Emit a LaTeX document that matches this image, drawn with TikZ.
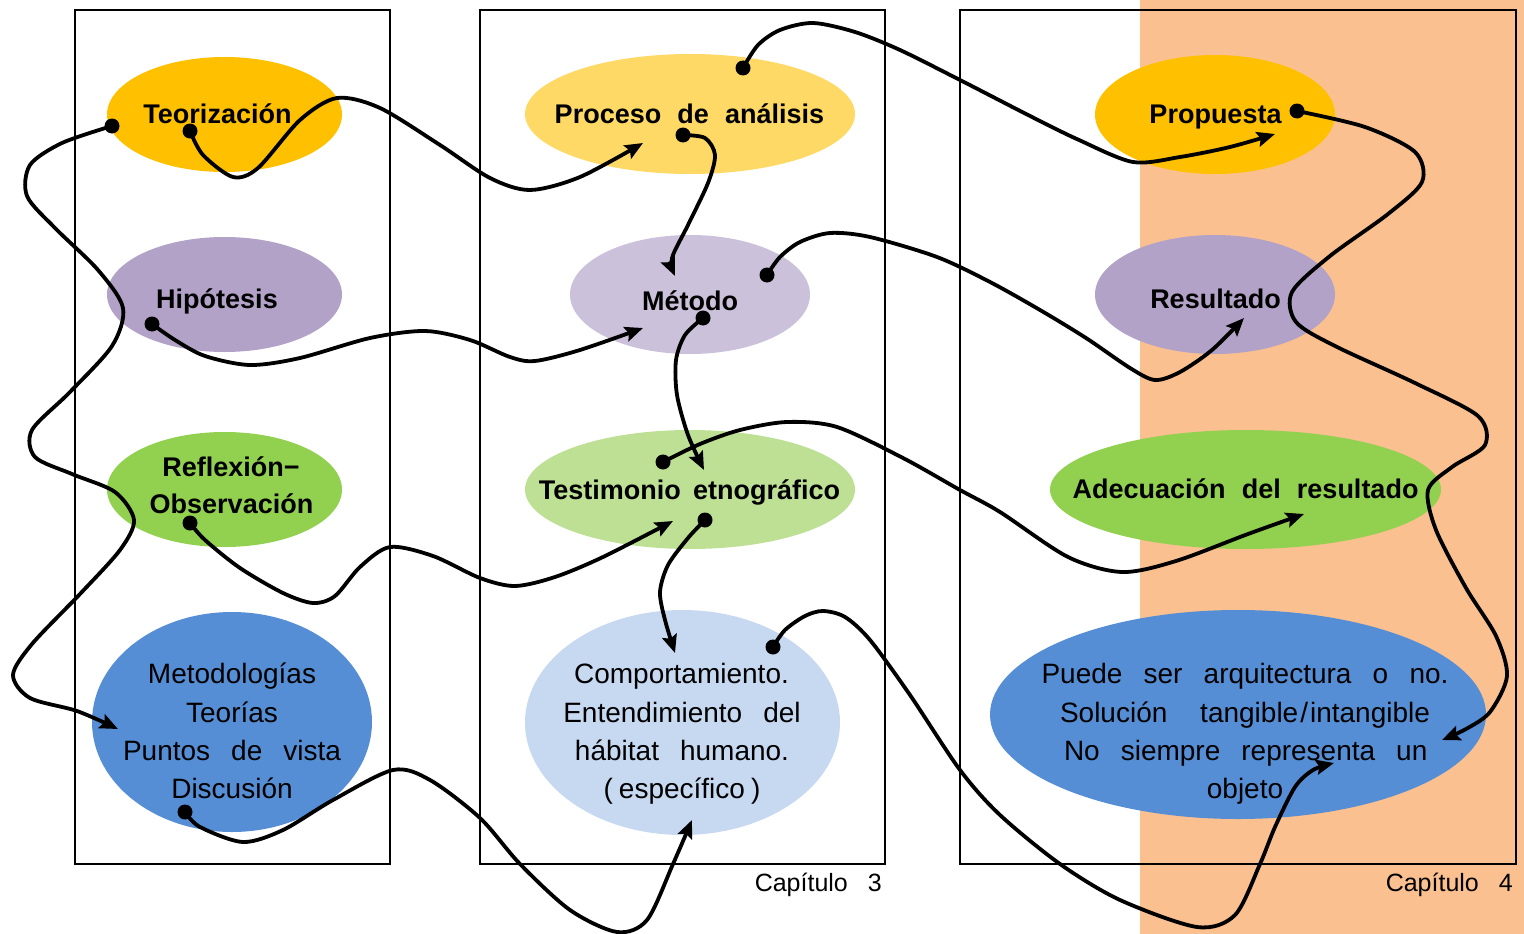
\documentclass[tikz,border=0pt]{standalone}
\usepackage{fontspec}
\setmainfont{Liberation Sans}
\usetikzlibrary{shapes.geometric,arrows.meta}
\definecolor{cTeo}{HTML}{FFC000}
\definecolor{cHip}{HTML}{B3A2C7}
\definecolor{cRef}{HTML}{92D050}
\definecolor{cMet}{HTML}{558ED5}
\definecolor{cPro}{HTML}{FFD966}
\definecolor{cMeto}{HTML}{CCC1DA}
\definecolor{cTes}{HTML}{BDE094}
\definecolor{cCom}{HTML}{C6D9F1}
\definecolor{cBg}{HTML}{FAC090}
\newcommand\wsBold{\spaceskip=0.6em plus 0.3em\relax}
\newcommand\wsTes{\spaceskip=0.45em\relax}
\newcommand\wsReg{\spaceskip=0.75em plus 2em\relax}
\newcommand\wsCap{\spaceskip=0.8em\relax}
\tikzset{
  blob/.style={ellipse, inner sep=0pt, draw=none},
  boldtxt/.style={font={\fontsize{27}{32}\selectfont\bfseries\wsBold}, anchor=base, inner sep=0pt},
  regtxt/.style={font={\fontsize{28}{34}\selectfont\wsReg}, anchor=base, inner sep=0pt},
  captxt/.style={font={\fontsize{25}{30}\selectfont\wsCap}, anchor=base east, inner sep=0pt},
  frame/.style={draw=black, line width=2.4pt},
  con/.style={draw=black, line width=3.8pt, line cap=round, line join=round, -{Stealth[length=18pt,width=15pt,inset=3pt]}},
  dotmark/.style={fill=black}
}
\begin{document}
\begin{tikzpicture}[x=1pt,y=-1pt]
\useasboundingbox (0,0) rectangle (1524,934);
\fill[cBg] (1140,0) rectangle (1524,934);
% frames
\draw[frame] (75,10) rectangle (390,864);
\draw[frame] (480,10) rectangle (885,864);
\draw[frame] (960,10) rectangle (1516,864);
\node[captxt] (cap3) at (882,891) {Capítulo 3};
\node[captxt] (cap4) at (1513,891) {Capítulo 4};
% ellipses column 1
\node[blob, fill=cTeo, minimum width=235pt, minimum height=115pt] (teo) at (224.5,114.5) {};
\node[blob, fill=cHip, minimum width=235pt, minimum height=115pt] (hip) at (224.5,294.5) {};
\node[blob, fill=cRef, minimum width=235pt, minimum height=115pt] (ref) at (224.5,489.5) {};
\node[blob, fill=cMet, minimum width=280pt, minimum height=220pt] (met) at (232,722) {};
% column 2
\node[blob, fill=cPro, minimum width=330pt, minimum height=120pt] (pro) at (690,114) {};
\node[blob, fill=cMeto, minimum width=240pt, minimum height=119pt] (meto) at (690,294.5) {};
\node[blob, fill=cTes, minimum width=330pt, minimum height=119pt] (tes) at (690,489.5) {};
\node[blob, fill=cCom, minimum width=315pt, minimum height=225pt] (com) at (682.5,722.5) {};
% column 3
\node[blob, fill=cTeo, minimum width=240pt, minimum height=119pt] (prop) at (1215,114.5) {};
\node[blob, fill=cHip, minimum width=240pt, minimum height=119pt] (res) at (1215,294.5) {};
\node[blob, fill=cRef, minimum width=391pt, minimum height=119pt] (ade) at (1245.5,489.5) {};
\node[blob, fill=cMet, minimum width=496pt, minimum height=209pt] (pue) at (1238,714.5) {};
% texts
\node[boldtxt] (tTeo) at (217.5,123) {Teorización};
\node[boldtxt] (tHip) at (217,308) {Hipótesis};
\node[boldtxt] (tRef1) at (231,476) {Reflexión−};
\node[boldtxt] (tRef2) at (231.5,513) {Observación};
\node[regtxt] (tMet1) at (232,683) {Metodologías};
\node[regtxt] (tMet2) at (232,722) {Teorías};
\node[regtxt] (tMet3) at (232,760) {Puntos de vista};
\node[regtxt] (tMet4) at (232,798) {Discusión};
\node[boldtxt] (tPro) at (689.5,124) {Proceso de análisis};
\node[boldtxt] (tMeto) at (690,310) {Método};
\node[boldtxt, font={\fontsize{27}{32}\selectfont\bfseries\wsTes}] (tTes) at (689.5,499) {Testimonio etnográfico};
\node[regtxt] (tCom1) at (681.5,683) {Comportamiento.};
\node[regtxt] (tCom2) at (682,722) {Entendimiento del};
\node[regtxt] (tCom3) at (682,760) {hábitat humano.};
\node[regtxt] (tCom4) at (682,798) {(\hspace{6pt}específico\hspace{6pt})};
\node[boldtxt] (tProp) at (1215.5,123) {Propuesta};
\node[boldtxt] (tRes) at (1215.5,308) {Resultado};
\node[boldtxt] (tAde) at (1245.5,498) {Adecuación del resultado};
\node[regtxt] (tPue1) at (1245,683) {\makebox[407pt][s]{Puede ser arquitectura o no.}};
\node[regtxt] (tPue2) at (1245,722) {\makebox[370pt][s]{Solución tangible\hspace{2pt}/\hspace{2pt}intangible}};
\node[regtxt] (tPue3) at (1245.5,760) {\makebox[363pt][s]{No siempre representa un}};
\node[regtxt] (tPue4) at (1245,798) {objeto};
% connector end points
\coordinate (A-s) at (112,126);   \coordinate (A-e) at (118,729);
\coordinate (B-s) at (190,131);   \coordinate (B-e) at (643,143);
\coordinate (C-s) at (683,135);   \coordinate (C-e) at (675,276);
\coordinate (D-s) at (743,68);    \coordinate (D-e) at (1275,134);
\coordinate (E-s) at (1297,111);  \coordinate (E-e) at (1442,740);
\coordinate (F-s) at (152,324);   \coordinate (F-e) at (643,328);
\coordinate (G-s) at (703,318);   \coordinate (G-e) at (704,470);
\coordinate (H-s) at (767,275);   \coordinate (H-e) at (1244,318);
\coordinate (I-s) at (190,523);   \coordinate (I-e) at (673,521);
\coordinate (J-s) at (663,462);   \coordinate (J-e) at (1304,514);
\coordinate (K-s) at (705,520);   \coordinate (K-e) at (675,653);
\coordinate (L-s) at (773,647);   \coordinate (L-e) at (1334,763);
\coordinate (M-s) at (185,812);   \coordinate (M-e) at (692,820);
% connectors
\draw[con] plot[smooth] coordinates {(A-s) (62,143) (30,165) (27,196) (55,228) (98,270) (123,308) (112,346) (70,392) (32,430) (35,457) (72,474) (115,492) (134,520) (120,550) (80,594) (32,644) (13,675) (30,698) (77,711) (A-e)};
\draw[con] plot[smooth] coordinates {(B-s) (203,155) (233,177) (258,168) (300,120) (337,98) (380,108) (440,145) (490,178) (530,190) (580,177) (B-e)};
\draw[con] plot[smooth] coordinates {(C-s) (705,138) (715,155) (708,183) (688,225) (672,258) (C-e)};
\draw[con] plot[smooth] coordinates {(D-s) (758,45) (780,30) (813,23) (855,32) (900,50) (960,80) (1032,117) (1079,140) (1133,162) (1180,157) (1230,147) (D-e)};
\draw[con] plot[smooth] coordinates {(E-s) (1365,127) (1415,152) (1422,182) (1388,214) (1330,256) (1292,292) (1296,322) (1335,346) (1415,383) (1478,416) (1485,445) (1452,467) (1428,490) (1436,530) (1466,588) (1496,636) (1507,676) (1490,712) (1466,729) (E-e)};
\draw[con] plot[smooth] coordinates {(F-s) (175,340) (205,356) (250,365) (300,358) (370,338) (425,331) (470,340) (510,357) (535,361) (580,350) (F-e)};
\draw[con] plot[smooth] coordinates {(G-s) (685,335) (676,360) (677,395) (688,435) (G-e)};
\draw[con] plot[smooth] coordinates {(H-s) (780,257) (800,242) (830,233) (870,237) (937,257) (990,282) (1040,310) (1086,338) (1130,368) (1155,380) (1180,372) (1212,350) (H-e)};
\draw[con] plot[smooth] coordinates {(I-s) (205,540) (240,568) (283,593) (313,603) (335,596) (360,567) (390,547) (433,556) (480,578) (515,586) (555,577) (603,557) (I-e)};
\draw[con] plot[smooth] coordinates {(J-s) (700,444) (740,430) (787,422) (837,427) (903,458) (960,490) (1000,512) (1068,557) (1122,572) (1176,561) (1248,534) (J-e)};
\draw[con] plot[smooth] coordinates {(K-s) (688,538) (668,565) (660,592) (665,620) (K-e)};
\draw[con] plot[smooth] coordinates {(L-s) (785,630) (805,616) (823,611) (845,617) (870,640) (910,695) (960,770) (1000,815) (1060,864) (1120,900) (1197,927) (1235,915) (1260,864) (1275,827) (1295,787) (1313,770) (L-e)};
\draw[con] plot[smooth] coordinates {(M-s) (200,827) (243,842) (283,830) (333,800) (393,770) (430,780) (480,818) (520,864) (570,910) (617,932) (647,920) (673,864) (M-e)};
% start dots
\foreach \p in {A,B,C,D,E,F,G,H,I,J,K,L,M} \fill[dotmark] (\p-s) circle (7.5);
\end{tikzpicture}
\end{document}
